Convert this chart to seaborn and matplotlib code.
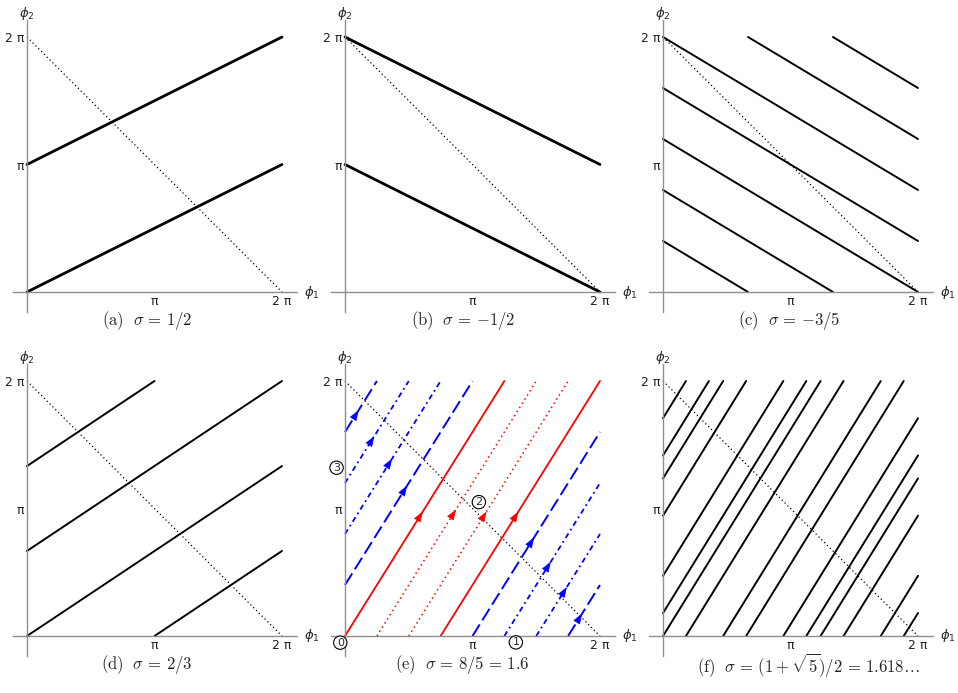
import numpy as np
import pandas as pd
import matplotlib.pyplot as plt
import seaborn as sns

sns.set_theme(style='white')
plt.rcParams['font.family'] = ['DejaVu Sans']
plt.rcParams['mathtext.fontset'] = 'dejavusans'

# trajectory segments (phi1 start, phi2 start, phi1 end, phi2 end), in units of pi
seg_a = [(0, 0, 2, 1), (0, 1, 2, 2)]
seg_b = [(0, 2, 2, 1), (0, 1, 2, 0)]
seg_c = [(0, 2, 2, 0.8), (0, 1.6, 2, 0.4), (0, 1.2, 2, 0), (0, 0.8, 1.333, 0),
         (0, 0.4, 0.667, 0), (0.667, 2, 2, 1.2), (1.333, 2, 2, 1.6)]
seg_d = [(0, 0, 2, 1.333), (0, 0.667, 2, 2), (0, 1.333, 1, 2), (1, 0, 2, 0.667)]
seg_f = [(0, 0, 1.236, 2), (1.236, 0, 2, 1.236), (0, 1.236, 0.472, 2),
         (0.472, 0, 1.708, 2), (1.708, 0, 2, 0.472), (0, 0.472, 0.944, 2),
         (0.944, 0, 2, 1.708), (0, 1.708, 0.18, 2), (0.18, 0, 1.416, 2),
         (1.416, 0, 2, 0.944), (0, 0.944, 0.652, 2), (0.652, 0, 1.888, 2),
         (1.888, 0, 2, 0.18), (0, 0.18, 1.124, 2), (1.124, 0, 2, 1.416),
         (0, 1.416, 0.36, 2)]

# panel (e): sigma = 8/5, four families of orbits
e_red_solid = [(0, 0, 1.25, 2), (0.75, 0, 2, 2)]
e_red_dotted = [(0.25, 0, 1.5, 2), (0.5, 0, 1.75, 2)]
e_blue_dashed = [(0, 1.6, 0.25, 2), (0, 0.4, 1, 2), (1, 0, 2, 1.6), (1.75, 0, 2, 0.4)]
e_blue_dashdot = [(0, 1.2, 0.5, 2), (0, 0.8, 0.75, 2), (1.25, 0, 2, 1.2), (1.5, 0, 2, 0.8)]
# arrow positions (phi1, in units of pi) on each segment above
arr_red_solid = [0.59, 1.34]
arr_red_dotted = [0.85, 1.09]
arr_blue_dashed = [0.087, 0.467, 1.463, 1.84]
arr_blue_dashdot = [0.21, 0.349, 1.594, 1.72]
# circled point labels
pt_labels = ['0', '1', '2', '3']
pt_x = [-0.037, 1.34, 1.05, -0.066]
pt_y = [-0.052, -0.05, 1.05, 1.32]

diag_x = [0, 2]
diag_y = [2, 0]

captions = [r'$\mathrm{(a)}\ \ \sigma\, =\, 1/2$',
            r'$\mathrm{(b)}\ \ \sigma\, =\, {-}1/2$',
            r'$\mathrm{(c)}\ \ \sigma\, =\, {-}3/5$',
            r'$\mathrm{(d)}\ \ \sigma\, =\, 2/3$',
            r'$\mathrm{(e)}\ \ \sigma\, =\, 8/5\, =\, 1.6$',
            r'$\mathrm{(f)}\ \ \sigma\, =\, (1+\sqrt{5})/2\, =\, 1.618\ldots$']
caption_x = [147, 463, 789, 147, 462, 809]

W, H = 958, 693
S = 255  # pixels for 2 pi
k = 2 * np.pi / S
origins = [(27, 292), (345, 292), (663, 292), (27, 636), (345, 636), (663, 636)]

fig = plt.figure(figsize=(W / 100, H / 100), dpi=100)
fig.set_facecolor('white')


def seg_frame(segs):
    rows = []
    for i, (x0, y0, x1, y1) in enumerate(segs):
        rows.append((i, x0 * np.pi, y0 * np.pi))
        rows.append((i, x1 * np.pi, y1 * np.pi))
    return pd.DataFrame(rows, columns=['seg', 'x', 'y'])


def draw_segs(ax, segs, **kw):
    df = seg_frame(segs)
    sns.lineplot(data=df, x='x', y='y', units='seg', estimator=None, sort=False,
                 ax=ax, legend=False, **kw)


def draw_arrows(ax, segs, xs, color):
    for (x0, y0, x1, y1), xa in zip(segs, xs):
        m = (y1 - y0) / (x1 - x0)
        ya = y0 + m * (xa - x0)
        d = 0.02
        ax.annotate('', xy=((xa + d) * np.pi, (ya + m * d) * np.pi),
                    xytext=((xa - d) * np.pi, (ya - m * d) * np.pi),
                    arrowprops=dict(arrowstyle='-|>,head_length=0.55,head_width=0.2',
                                    color=color, lw=0.5,
                                    mutation_scale=12, shrinkA=0, shrinkB=0))


axes = []
for i, (ox, oy) in enumerate(origins):
    left, right, top, bottom = ox - 14, ox + 270, oy - 272, oy + 20
    ax = fig.add_axes([left / W, 1 - bottom / H, (right - left) / W, (bottom - top) / H])
    ax.set_xlim(-14 * k, 270 * k)
    ax.set_ylim(-20 * k, 272 * k)
    ax.set_facecolor('none')
    for s in ['top', 'right']:
        ax.spines[s].set_visible(False)
    for s in ['left', 'bottom']:
        ax.spines[s].set_position(('data', 0))
        ax.spines[s].set_color('#8f8f8f')
        ax.spines[s].set_linewidth(1.0)
    ax.set_xticks([np.pi, 2 * np.pi])
    ax.set_xticklabels(['π', '2 π'])
    ax.set_yticks([np.pi, 2 * np.pi])
    ax.set_yticklabels(['π', '2 π'])
    ax.tick_params(direction='in', length=3, width=0.8, color='#8f8f8f',
                   labelsize=9, pad=2, labelcolor='#222222')
    ax.text(277 * k, 0, r'$\phi_1$', fontsize=9.5, ha='left', va='center')
    ax.text(0, 278 * k, r'$\phi_2$', fontsize=9.5, ha='center', va='center')
    sns.lineplot(x=np.array(diag_x) * np.pi, y=np.array(diag_y) * np.pi, ax=ax,
                 color='black', lw=0.9, linestyle=(0, (1, 2.2)), sort=False)
    fig.text(caption_x[i] / W, 1 - (oy + 29) / H, captions[i], fontsize=12,
             ha='center', va='center', math_fontfamily='cm')
    axes.append(ax)

draw_segs(axes[0], seg_a, color='black', lw=2.0)
draw_segs(axes[1], seg_b, color='black', lw=2.0)
draw_segs(axes[2], seg_c, color='black', lw=1.4)
draw_segs(axes[3], seg_d, color='black', lw=1.4)
draw_segs(axes[5], seg_f, color='black', lw=1.4)

ax = axes[4]
draw_segs(ax, e_red_solid, color='red', lw=1.3)
draw_segs(ax, e_red_dotted, color='red', lw=1.1, linestyle=(0, (1, 2.2)))
draw_segs(ax, e_blue_dashed, color='blue', lw=1.4, linestyle=(0, (7, 2.5)))
draw_segs(ax, e_blue_dashdot, color='blue', lw=1.3, linestyle=(0, (3, 2, 1, 2)))
draw_arrows(ax, e_red_solid, arr_red_solid, 'red')
draw_arrows(ax, e_red_dotted, arr_red_dotted, 'red')
draw_arrows(ax, e_blue_dashed, arr_blue_dashed, 'blue')
draw_arrows(ax, e_blue_dashdot, arr_blue_dashdot, 'blue')
for lab, px, py in zip(pt_labels, pt_x, pt_y):
    ax.text(px * np.pi, py * np.pi, lab, fontsize=8, ha='center', va='center',
            bbox=dict(boxstyle='circle,pad=0.15', fc='white', ec='black', lw=0.8),
            zorder=5)
for a in axes:
    a.set_xlabel('')
    a.set_ylabel('')

fig.savefig('out.png', dpi=100, facecolor='white')
